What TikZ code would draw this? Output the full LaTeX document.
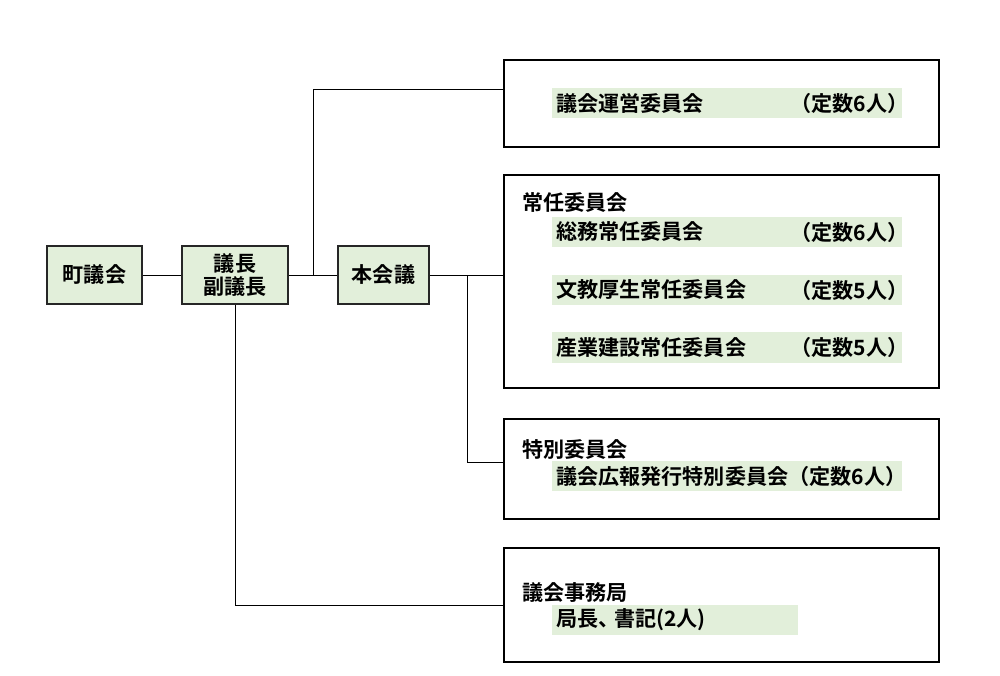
\documentclass[tikz,border=0pt]{standalone}
\usepackage{fontspec}
\newfontfamily\jpfont{Noto Sans CJK JP Bold}
\definecolor{hlgreen}{RGB}{226,239,218}
\tikzset{
  orgbox/.style={draw=black!85, line width=1.2pt, fill=hlgreen, minimum height=1.45cm, align=center, inner sep=0},
  groupbox/.style={draw, line width=1.2pt, minimum width=10.875cm},
  hlbar/.style={fill=hlgreen, anchor=west, inner xsep=0.1cm, inner ysep=0, minimum height=0.75cm, text width=8.55cm, align=left},
  tag/.style={anchor=west, inner sep=0},
  wire/.style={line width=0.7pt},
}
\begin{document}
\begin{tikzpicture}[x=0.025cm, y=-0.025cm, font=\jpfont\fontsize{15}{17}\selectfont]
        \useasboundingbox (0,0) rectangle (1000,676);
        \node[orgbox, minimum width=2.375cm] (chogikai) at (94.5,275) {町議会};
        \node[orgbox, minimum width=2.65cm] (gicho) at (235,275) {議長\\副議長};
        \node[orgbox, minimum width=2.275cm] (honkaigi) at (383.5,275) {本会議};
        \node[groupbox, minimum height=2.175cm] (unei) at (721.5,103.5) {};
        \node[groupbox, minimum height=5.325cm] (jonin) at (721.5,281.5) {};
        \node[groupbox, minimum height=2.5cm] (tokubetsu) at (721.5,469) {};
        \node[groupbox, minimum height=2.85cm] (jimukyoku) at (721.5,605) {};
        \coordinate (fork-up) at (313,275);
        \coordinate (fork-down) at (467,275);
        \draw[wire] (chogikai) -- (gicho);
        \draw[wire] (gicho) -- (honkaigi);
        \draw[wire] (fork-up) |- ([yshift=0.35cm]unei.west);
        \draw[wire] (honkaigi) -- (honkaigi -| jonin.west);
        \draw[wire] (fork-down) |- ([yshift=0.175cm]tokubetsu.west);
        \draw[wire] (gicho) |- (jimukyoku);
        \node[hlbar] (unei-name) at (552,103) {議会運営委員会};
        \node[tag] (unei-teisu) at (790,103) {（定数6人）};
        \node[tag] (jonin-title) at (522,203) {常任委員会};
        \node[hlbar] (somu-name) at (552,232) {総務常任委員会};
        \node[tag] (somu-teisu) at (790,232) {（定数6人）};
        \node[hlbar] (bunkyo-name) at (552,290) {文教厚生常任委員会};
        \node[tag] (bunkyo-teisu) at (790,290) {（定数5人）};
        \node[hlbar] (sangyo-name) at (552,347.5) {産業建設常任委員会};
        \node[tag] (sangyo-teisu) at (790,347.5) {（定数5人）};
        \node[tag] (tokubetsu-title) at (522,450) {特別委員会};
        \node[hlbar] (koho-name) at (552,476) {議会広報発行特別委員会（定数6人）};
        \node[tag] (jimukyoku-title) at (522,593) {議会事務局};
        \node[hlbar, text width=5.95cm] (shoki-name) at (552,619.5) {局長、\kern-0.25em書記(2人)};
        \end{tikzpicture}
\end{document}
